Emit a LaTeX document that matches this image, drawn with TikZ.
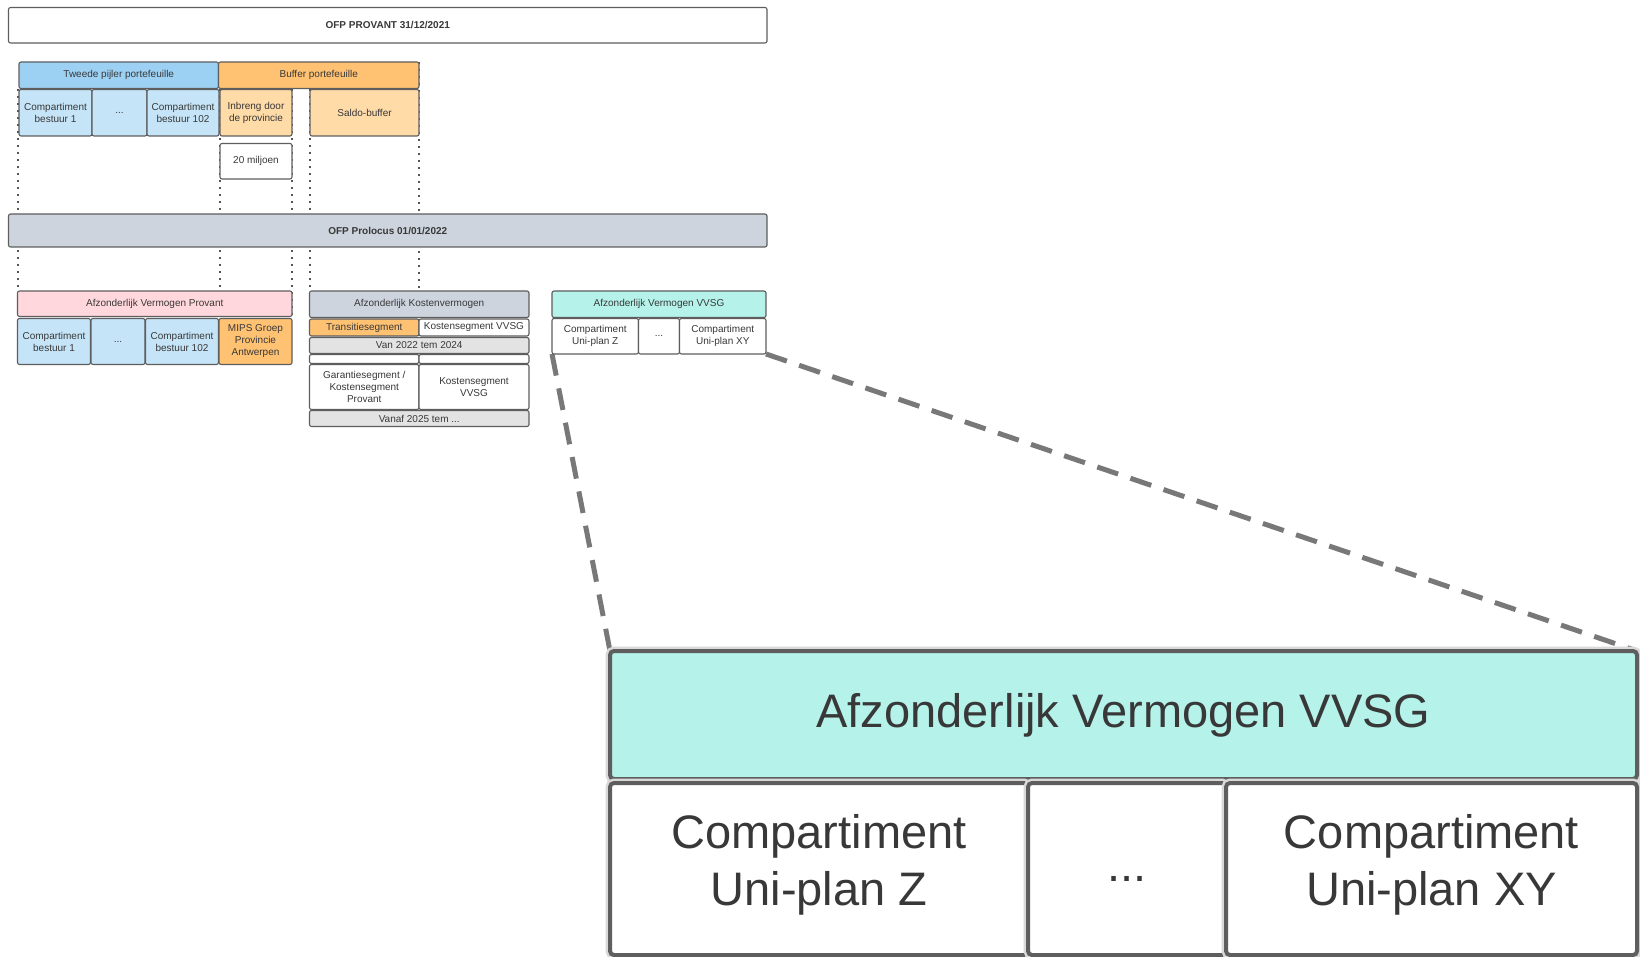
\documentclass[tikz,border=0pt]{standalone}
\usepackage{fontspec}
\setmainfont{Liberation Sans}
\definecolor{bordc}{HTML}{5E5E5E}
\definecolor{textc}{HTML}{383838}
\definecolor{blueH}{HTML}{9DD1F4}
\definecolor{blueL}{HTML}{C5E4F7}
\definecolor{orH}{HTML}{FFC273}
\definecolor{orL}{HTML}{FFDBA8}
\definecolor{grayH}{HTML}{CDD4DD}
\definecolor{grayL}{HTML}{E3E3E3}
\definecolor{pinkH}{HTML}{FFD7DC}
\definecolor{mintH}{HTML}{B4F2EA}
\definecolor{dotc}{HTML}{555555}
\definecolor{zoomc}{HTML}{787878}
\pgfdeclarelayer{background}
\pgfsetlayers{background,main}
\newcommand\ubox[7]{\node[#6,minimum width={(#4-#2)*1pt},minimum height={(#5-#3)*1pt}] (#1) at ({(#2+#4)/2},{(#3+#5)/2}) {#7};}
\begin{document}
\begin{tikzpicture}[x=1pt,y=-1pt,
  box/.style={draw=bordc, line width=1.1pt, rounded corners=2pt, inner sep=0pt, outer sep=0pt,
    align=center, text=textc, font=\fontsize{10}{12}\selectfont},
  bigbox/.style={draw=bordc, line width=4pt, rounded corners=4pt, inner sep=0pt, outer sep=0pt,
    align=center, text=textc, font=\fontsize{47}{57}\selectfont,
    preaction={draw=black!15, line width=9pt}},
  bigtext/.style={text=textc, font=\fontsize{47}{57}\selectfont, align=center, inner sep=0pt},
  titlefont/.style={font=\fontsize{10}{12}\selectfont\bfseries},
  dotline/.style={draw=dotc, line width=2pt, dash pattern=on 2pt off 5pt},
  zoomline/.style={draw=zoomc, line width=5pt, dash pattern=on 22pt off 13pt}]
\useasboundingbox (0,0) rectangle (1640,957);

% top
\ubox{title}{8.5}{7.5}{767}{43}{box,fill=white,titlefont}{OFP PROVANT 31/12/2021}
\ubox{tweede}{19}{62}{218.5}{88.5}{box,fill=blueH}{Tweede pijler portefeuille}
\ubox{buffer}{218.5}{62}{419}{88.5}{box,fill=orH}{Buffer portefeuille}
\ubox{tcb1}{19}{89.5}{92}{136}{box,fill=blueL}{Compartiment\\bestuur 1}
\ubox{tdots}{92}{89.5}{147}{136}{box,fill=blueL}{...}
\ubox{tcb102}{147}{89.5}{219}{136}{box,fill=blueL}{Compartiment\\bestuur 102}
\ubox{inbreng}{220}{89.5}{292}{136}{box,fill=orL}{Inbreng door\\de provincie}
\ubox{saldo}{310}{89.5}{419}{136}{box,fill=orL}{Saldo-buffer}
\ubox{milj}{220}{143.5}{292}{179}{box,fill=white}{20 miljoen}

% prolocus
\ubox{prolocus}{8.5}{214}{767}{247}{box,fill=grayH,titlefont}{OFP Prolocus 01/01/2022}

% Provant
\ubox{afzprov}{17.5}{291}{292}{316.5}{box,fill=pinkH}{Afzonderlijk Vermogen Provant}
\ubox{pcb1}{17.5}{318.5}{90.5}{364.5}{box,fill=blueL}{Compartiment\\bestuur 1}
\ubox{pdots}{91}{318.5}{145}{364.5}{box,fill=blueL}{...}
\ubox{pcb102}{145.5}{318.5}{218.5}{364.5}{box,fill=blueL}{Compartiment\\bestuur 102}
\ubox{mips}{219}{318.5}{292}{364.5}{box,fill=orH}{MIPS Groep\\Provincie\\Antwerpen}

% Kostenvermogen
\ubox{kosten}{309.5}{291}{529}{317.5}{box,fill=grayH}{Afzonderlijk Kostenvermogen}
\ubox{trans}{309.5}{319}{419}{336}{box,fill=orH}{Transitiesegment}
\ubox{kvvsg1}{419}{319}{529}{336}{box,fill=white}{Kostensegment VVSG}
\ubox{van}{309.5}{337.5}{529}{353.5}{box,fill=grayL}{Van 2022 tem 2024}
\ubox{emptyA}{309.5}{354.5}{419}{363.5}{box,fill=white}{}
\ubox{emptyB}{419}{354.5}{529}{363.5}{box,fill=white}{}
\ubox{garantie}{309.5}{364.5}{419}{409.5}{box,fill=white}{Garantiesegment /\\Kostensegment\\Provant}
\ubox{kvvsg2}{419}{364.5}{529}{409.5}{box,fill=white}{Kostensegment\\VVSG}
\ubox{vanaf}{309.5}{410.5}{529}{426.5}{box,fill=grayL}{Vanaf 2025 tem ...}

% VVSG
\ubox{vvsg}{552}{291}{766}{317.5}{box,fill=mintH}{Afzonderlijk Vermogen VVSG}
\ubox{vZ}{552}{318.5}{638.5}{354}{box,fill=white}{Compartiment\\Uni-plan Z}
\ubox{vdots}{638.5}{318.5}{679.5}{354}{box,fill=white}{...}
\ubox{vXY}{679.5}{318.5}{766}{354}{box,fill=white}{Compartiment\\Uni-plan XY}

% magnified
\ubox{maghead}{610}{651}{1637}{779}{bigbox,fill=mintH}{Afzonderlijk Vermogen VVSG}
\ubox{magZ}{610}{783}{1028}{955}{bigbox,fill=white}{}
\ubox{magdots}{1028}{783}{1226}{955}{bigbox,fill=white}{}
\ubox{magXY}{1226}{783}{1637}{955}{bigbox,fill=white}{}
\node[bigtext] (magZt) at ([yshift=4pt]magZ.center) {Compartiment\\Uni-plan Z};
\node[bigtext] (magdt) at ([yshift=-10pt]magdots.center) {...};
\node[bigtext] (magXYt) at ([yshift=4pt]magXY.center) {Compartiment\\Uni-plan XY};

\begin{pgfonlayer}{background}
\fill[white] (0,0) rectangle (1640,957);
\draw[dotline] ([xshift=-0.8pt]tcb1.north west) -- ([xshift=-0.8pt]tcb1.north west |- afzprov.north);
\draw[dotline] (inbreng.north west) -- (inbreng.north west |- mips.north);
\draw[dotline] (inbreng.north east) -- (inbreng.north east |- mips.north);
\draw[dotline] (saldo.north west) -- (saldo.north west |- kosten.north);
\draw[dotline] (buffer.north east) -- (buffer.north east |- kosten.north);
\draw[zoomline] (vZ.south west) -- (maghead.north west);
\draw[zoomline] (vXY.south east) -- (maghead.north east);
\end{pgfonlayer}
\end{tikzpicture}
\end{document}
